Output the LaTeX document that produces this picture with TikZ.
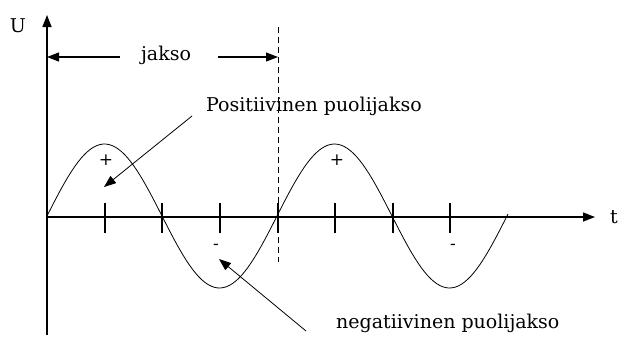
\documentclass[tikz,border=0pt]{standalone}
\usepackage{fontspec}
\setmainfont{DejaVu Serif}
\usetikzlibrary{arrows.meta}
\begin{document}
\begin{tikzpicture}[x=1pt,y=-1pt,
  lbl/.style={inner sep=0pt,font=\fontsize{19}{22}\selectfont},
  sign/.style={inner sep=0pt,font=\fontsize{17}{20}\selectfont},
  axisline/.style={line width=1.4pt},
  tip/.style={-{Triangle[length=12pt,width=9pt]}},
  thin/.style={line width=0.8pt}]
\useasboundingbox (0,0) rectangle (621,341);
% axes
\coordinate (ybot) at (47,335);
\coordinate (ytop) at (47,15);
\coordinate (xl) at (47,217);
\coordinate (xr) at (595,217);
\draw[axisline,tip] (ybot) -- (ytop);
\draw[axisline,tip] (xl) -- (xr);
\node[lbl] (U) at (18,26) {U};
\node[lbl] (t) at (614,217) {t};
% ticks
\foreach \x in {105,162,220,278,335,393,450}
  \draw[line width=1.2pt] (\x,203) -- (\x,233);
% sine
\draw[thin] plot[domain=47:508,samples=150] (\x,{216-72*sin((\x-47)/230*360)});
% dashed line
\coordinate (dtop) at (278,27);
\coordinate (dbot) at (278,262);
\draw[line width=1pt,dash pattern=on 6pt off 4pt] (dtop) -- (dbot);
% jakso
\node[lbl] (jakso) at (166,55) {jakso};
\coordinate (jl) at (47,57);
\coordinate (jr) at (278,57);
\draw[line width=1.2pt,tip] (120,57) -- (jl);
\draw[line width=1.2pt,tip] (218,57) -- (jr);
% plus / minus
\node[sign] (p1) at (106,160) {+};
\node[sign] (p2) at (337,160) {+};
\node[sign] (m1) at (216,247) {-};
\node[sign] (m2) at (453,247) {-};
% labels
\node[lbl,anchor=west] (pos) at (206,106) {Positiivinen puolijakso};
\node[lbl,anchor=west] (neg) at (336,323) {negatiivinen puolijakso};
\coordinate (pa) at (104,187);
\coordinate (na) at (219,259);
\draw[thin,tip] (192,116) -- (pa);
\draw[thin,tip] (306,331) -- (na);
\end{tikzpicture}
\end{document}
